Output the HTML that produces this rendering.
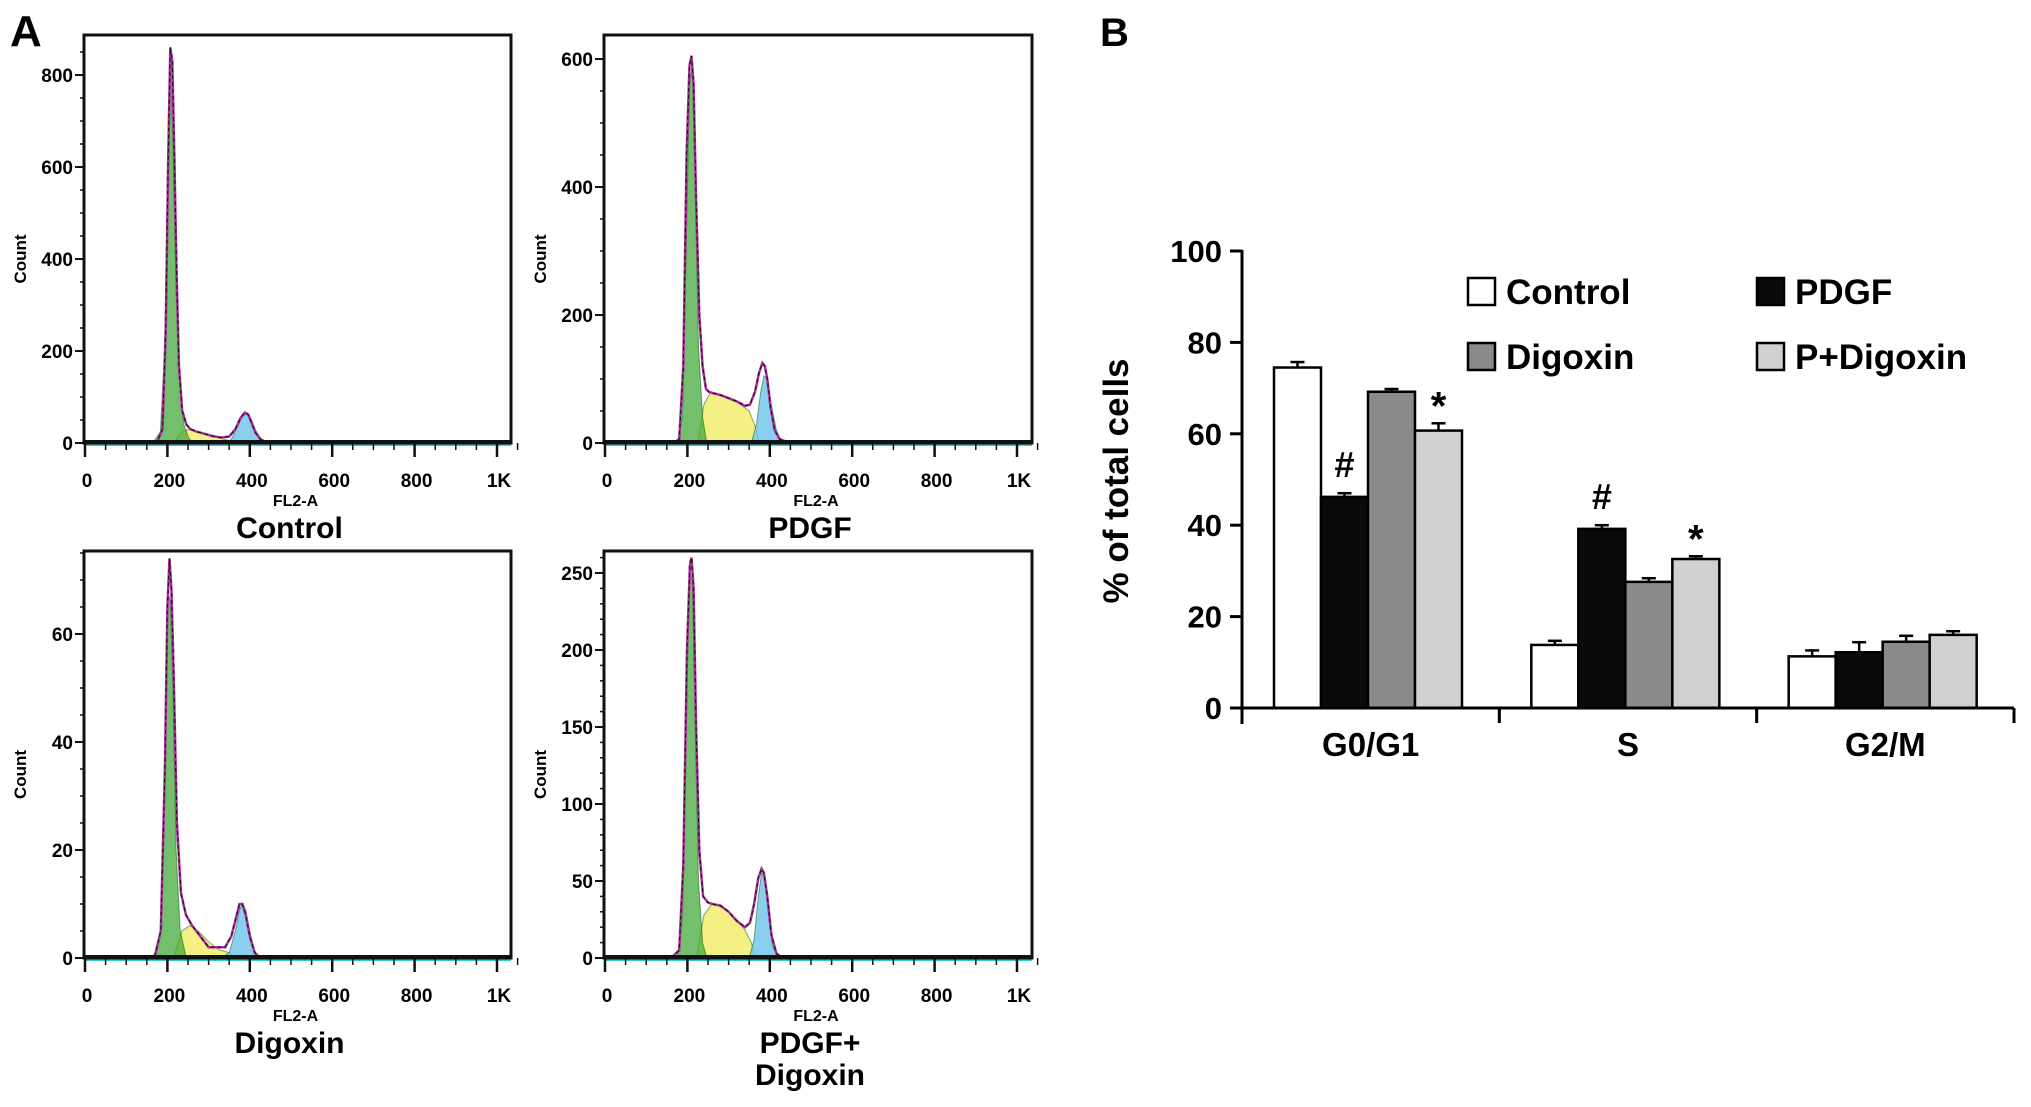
<!DOCTYPE html>
<html><head><meta charset="utf-8"><style>
html,body{margin:0;padding:0;background:#fff;}
svg{display:block;}
text{font-family:"Liberation Sans",Arial,sans-serif;font-weight:bold;fill:#000;}
</style></head><body>
<svg id="fig" width="2031" height="1107" viewBox="0 0 2031 1107" xmlns="http://www.w3.org/2000/svg">
<text x="10" y="46" font-size="44">A</text>
<text x="1100" y="46" font-size="40">B</text>
</svg>
<script>
// ---------- Panel A histogram data (channel, count) ----------
const ctrlTotalX=[150,175,188,196,202,207,212,217,222,228,236,246,256,270,290,310,330,350,365,378,388,396,404,414,426,440,460,1050];
const ctrlTotalY=[0,2,30,250,620,860,830,620,380,170,70,40,30,25,20,15,12,14,30,55,66,62,45,22,8,2,0,0];
const ctrlG1X=[165,183,193,201,207,214,221,230,240,252,264];
const ctrlG1Y=[0,25,200,600,850,620,330,120,40,10,0];
const ctrlSX=[215,235,255,275,295,315,335,355,375];
const ctrlSY=[0,25,30,25,20,14,9,4,0];
const ctrlG2X=[340,355,370,382,392,402,414,428,445];
const ctrlG2Y=[0,8,35,58,64,55,28,8,0];

const pdgfTotalX=[160,180,190,198,205,210,215,221,229,237,245,252,262,280,300,320,340,352,364,374,382,388,394,402,412,424,440,460,1050];
const pdgfTotalY=[0,5,120,450,590,605,560,380,200,120,85,80,78,75,70,65,58,60,80,110,125,120,100,55,20,6,2,0,0];
const pdgfG1X=[175,188,197,205,212,219,227,237,247];
const pdgfG1Y=[0,40,300,560,590,400,150,40,0];
const pdgfSX=[225,240,255,275,300,325,350,365,375];
const pdgfSY=[0,60,78,75,70,62,50,25,0];
const pdgfG2X=[355,368,378,386,394,404,416,430];
const pdgfG2Y=[0,30,80,105,100,60,20,0];

const digTotalX=[150,170,184,194,200,205,210,216,223,233,245,260,280,300,320,340,355,365,375,382,390,400,412,425,440,1050];
const digTotalY=[0,0.5,5,35,65,74,68,50,25,12,8,6,4,2,2,2,4,7,10,10,8,4,1,0,0,0];
const digG1X=[170,184,194,201,207,213,221,231,246];
const digG1Y=[0,5,40,68,66,50,20,5,0];
const digSX=[215,235,255,275,300,325,350,370];
const digSY=[0,5,6,5,3,1.5,1,0];
const digG2X=[330,350,365,375,382,390,400,412,430];
const digG2Y=[0,1,5,9,10,9,5,1,0];

const pdTotalX=[160,180,190,199,206,210,215,221,229,238,250,262,280,300,320,340,352,362,372,380,386,394,404,416,430,1050];
const pdTotalY=[0,5,60,200,255,260,240,150,70,40,36,35,34,30,24,20,23,35,52,58,55,40,15,3,0,0];
const pdG1X=[175,188,197,205,212,219,227,237,247];
const pdG1Y=[0,25,150,250,245,150,50,10,0];
const pdSX=[222,240,260,280,300,320,340,355,365];
const pdSY=[0,28,35,34,30,25,18,10,0];
const pdG2X=[350,362,372,380,388,396,406,420];
const pdG2Y=[0,12,40,55,52,30,8,0];

const ctrlTicks=[0,200,400,600,800];
const pdgfTicks=[0,200,400,600];
const digTicks=[0,20,40,60];
const pdTicks=[0,50,100,150,200,250];
const xTickLabels=['0','200','400','600','800','1K'];
const xTickValues=[0,200,400,600,800,1000];

// ---------- Panel B bar data ----------
const phases=['G0/G1','S','G2/M'];
const seriesNames=['Control','PDGF','Digoxin','P+Digoxin'];
const controlVals=[74.5,13.8,11.3];
const pdgfVals=[46.2,39.2,12.2];
const digoxinVals=[69.2,27.6,14.5];
const pdigVals=[60.7,32.6,16.0];
const controlErr=[1.2,0.9,1.3];
const pdgfErr=[0.8,0.8,2.2];
const digoxinErr=[0.6,0.8,1.3];
const pdigErr=[1.6,0.6,0.8];
const yTicksB=[0,20,40,60,80,100];
const markers=[{g:0,s:1,t:'#'},{g:0,s:3,t:'*'},{g:1,s:1,t:'#'},{g:1,s:3,t:'*'}];

const NS='http://www.w3.org/2000/svg';
const svg=document.getElementById('fig');
function mk(tag,attrs,parent){const e=document.createElementNS(NS,tag);for(const k in attrs)e.setAttribute(k,attrs[k]);(parent||svg).appendChild(e);return e;}

function hist(cfg){
  const g=mk('g',{});
  
  
  const L=cfg.left,R=cfg.right,T=cfg.top,B=cfg.base;
  const xs=v=>L+1+v*0.412;
  const ys=v=>B-v*cfg.ppu;
  const clipId='clip'+cfg.id;
  const cp=mk('clipPath',{id:clipId},g);mk('rect',{x:L,y:T,width:R-L,height:B-T},cp);
  const area=(X,Y,fill,nm)=>{
    let d='M'+xs(X[0])+','+B;
    for(let i=0;i<X.length;i++)d+=' L'+xs(X[i]).toFixed(1)+','+ys(Y[i]).toFixed(1);
    d+=' L'+xs(X[X.length-1])+','+B+'Z';
    const p=mk('path',{d:d,fill:fill,stroke:'rgba(0,90,0,0.5)','stroke-width':1,'clip-path':'url(#'+clipId+')'},g);
    
    
  };
  area(cfg.sX,cfg.sY,'rgba(240,235,90,0.75)','s-phase-fill');
  area(cfg.g2X,cfg.g2Y,'rgba(110,195,235,0.8)','g2-phase-fill');
  area(cfg.g1X,cfg.g1Y,'rgba(70,170,60,0.75)','g1-phase-fill');
  let d='';
  for(let i=0;i<cfg.tX.length;i++)d+=(i?' L':'M')+xs(cfg.tX[i]).toFixed(1)+','+ys(cfg.tY[i]).toFixed(1);
  const tl=mk('path',{d:d,fill:'none',stroke:'#a8309a','stroke-width':2.5,'clip-path':'url(#'+clipId+')'},g);
  
  
  const tl2=mk('path',{d:d,fill:'none',stroke:'#111','stroke-width':1,'stroke-dasharray':'4 3','clip-path':'url(#'+clipId+')'},g);
  
  
  mk('line',{x1:L,y1:B+2,x2:R,y2:B+2,stroke:'#3cc',"stroke-width":2},g);
  mk('line',{x1:L,y1:B-1,x2:R,y2:B-1,stroke:'#111',"stroke-width":4},g);
  const box=mk('rect',{x:L,y:T,width:R-L,height:B-T,fill:'none',stroke:'#111','stroke-width':3},g);
  
  
  for(let v=0;v<=cfg.yMaxMinor;v+=cfg.minor){const y=ys(v);mk('line',{x1:L-4,y1:y,x2:L,y2:y,stroke:'#111','stroke-width':1.5},g);}
  cfg.ticks.forEach(v=>{const y=ys(v);mk('line',{x1:L-9,y1:y,x2:L,y2:y,stroke:'#111','stroke-width':2},g);
    const t=mk('text',{x:L-11,y:y+7,'font-size':19,'text-anchor':'end'},g);t.textContent=v;
    
    });
  for(let v=0;v<=1050;v+=50){const x=xs(v);const maj=v%200===0;mk('line',{x1:x,y1:B,x2:x,y2:B+(maj?14:7),stroke:'#111','stroke-width':maj?2.5:1.5},g);}
  xTickValues.forEach((v,i)=>{const t=mk('text',{x:xs(v)+2,y:B+44,'font-size':19,'text-anchor':'middle'},g);t.textContent=xTickLabels[i];
    
    });
  const xl=mk('text',{x:(L+R)/2-2,y:B+63,'font-size':16,'text-anchor':'middle'},g);xl.textContent='FL2-A';
  
  
  const yl=mk('text',{x:0,y:0,'font-size':17,'text-anchor':'middle',transform:'translate('+(L-58)+','+((T+B)/2+20)+') rotate(-90)'},g);yl.textContent='Count';
  
  
  cfg.title.forEach((s,i)=>{const t=mk('text',{x:(L+R)/2-8,y:B+95+i*32,'font-size':30,'text-anchor':'middle'},g);t.textContent=s;
    
    });
}
hist({id:1,name:'histogram-control',left:84,right:511,top:35,base:443,ppu:0.46,ticks:ctrlTicks,minor:50,yMaxMinor:850,tX:ctrlTotalX,tY:ctrlTotalY,g1X:ctrlG1X,g1Y:ctrlG1Y,sX:ctrlSX,sY:ctrlSY,g2X:ctrlG2X,g2Y:ctrlG2Y,title:['Control']});
hist({id:2,name:'histogram-pdgf',left:604,right:1032,top:35,base:443,ppu:0.64,ticks:pdgfTicks,minor:50,yMaxMinor:600,tX:pdgfTotalX,tY:pdgfTotalY,g1X:pdgfG1X,g1Y:pdgfG1Y,sX:pdgfSX,sY:pdgfSY,g2X:pdgfG2X,g2Y:pdgfG2Y,title:['PDGF']});
hist({id:3,name:'histogram-digoxin',left:84,right:511,top:551,base:958,ppu:5.4,ticks:digTicks,minor:5,yMaxMinor:75,tX:digTotalX,tY:digTotalY,g1X:digG1X,g1Y:digG1Y,sX:digSX,sY:digSY,g2X:digG2X,g2Y:digG2Y,title:['Digoxin']});
hist({id:4,name:'histogram-pdgf-digoxin',left:604,right:1032,top:551,base:958,ppu:1.54,ticks:pdTicks,minor:10,yMaxMinor:260,tX:pdTotalX,tY:pdTotalY,g1X:pdG1X,g1Y:pdG1Y,sX:pdSX,sY:pdSY,g2X:pdG2X,g2Y:pdG2Y,title:['PDGF+','Digoxin']});

// ---------- Panel B ----------
(function(){
  const AX=1242,AR=2014,Y0=708,Y100=251;
  const ys=v=>Y0-(Y0-Y100)*v/100;
  const gw=(AR-AX)/3, bw=47, goff=32;
  const bx=(g,s)=>AX+g*gw+goff+s*bw;
  const fills=['#ffffff','#0a0a0a','#8a8a8a','#cfd0d0'];
  const vals=[controlVals,pdgfVals,digoxinVals,pdigVals];
  const errs=[controlErr,pdgfErr,digoxinErr,pdigErr];
  const g=mk('g',{});
  
  
  vals.forEach((arr,s)=>arr.forEach((v,gi)=>{
    const x=bx(gi,s),e=errs[s][gi];
    mk('line',{x1:x+bw/2,y1:ys(v),x2:x+bw/2,y2:ys(v+e),stroke:'#000','stroke-width':2.5},g);
    mk('line',{x1:x+bw/2-7,y1:ys(v+e),x2:x+bw/2+7,y2:ys(v+e),stroke:'#000','stroke-width':2.5},g);
    const r=mk('rect',{x:x,y:ys(v),width:bw,height:Y0-ys(v),fill:fills[s],stroke:'#000','stroke-width':2.5},g);
    
    
  }));
  markers.forEach(m=>{
    const v=vals[m.s][m.g]+errs[m.s][m.g];
    const t=mk('text',{x:bx(m.g,m.s)+bw/2,y:ys(v)-(m.t==='#'?16:4),'font-size':m.t==='#'?36:40,'text-anchor':'middle'},g);t.textContent=m.t;
    
    
  });
  mk('line',{x1:AX,y1:Y100-1,x2:AX,y2:Y0+16,stroke:'#000','stroke-width':3},g);
  mk('line',{x1:AX,y1:Y0,x2:AR,y2:Y0,stroke:'#000','stroke-width':3},g);
  for(let i=1;i<=3;i++){const x=AX+i*gw;mk('line',{x1:x,y1:Y0,x2:x,y2:Y0+15,stroke:'#000','stroke-width':3},g);}
  yTicksB.forEach(v=>{mk('line',{x1:AX-12,y1:ys(v),x2:AX,y2:ys(v),stroke:'#000','stroke-width':3},g);
    const t=mk('text',{x:AX-20,y:ys(v)+11,'font-size':31,'text-anchor':'end'},g);t.textContent=v;
    
    });
  phases.forEach((p,i)=>{const t=mk('text',{x:AX+i*gw+gw/2,y:756,'font-size':33,'text-anchor':'middle'},g);t.textContent=p;
    
    });
  const yt=mk('text',{x:0,y:0,'font-size':35,'text-anchor':'middle',transform:'translate(1128,481) rotate(-90)'},g);yt.textContent='% of total cells';
  
  
  const lx=[1468,1757],ly=[278,343];
  seriesNames.forEach((n,s)=>{
    const x=lx[s%2],y=ly[Math.floor(s/2)];
    const r=mk('rect',{x:x,y:y,width:27,height:27,fill:fills[s],stroke:'#000','stroke-width':2.5},g);
    
    
    const t=mk('text',{x:x+38,y:y+26,'font-size':35},g);t.textContent=n;
    
    
  });
})();
</script>
</body></html>
